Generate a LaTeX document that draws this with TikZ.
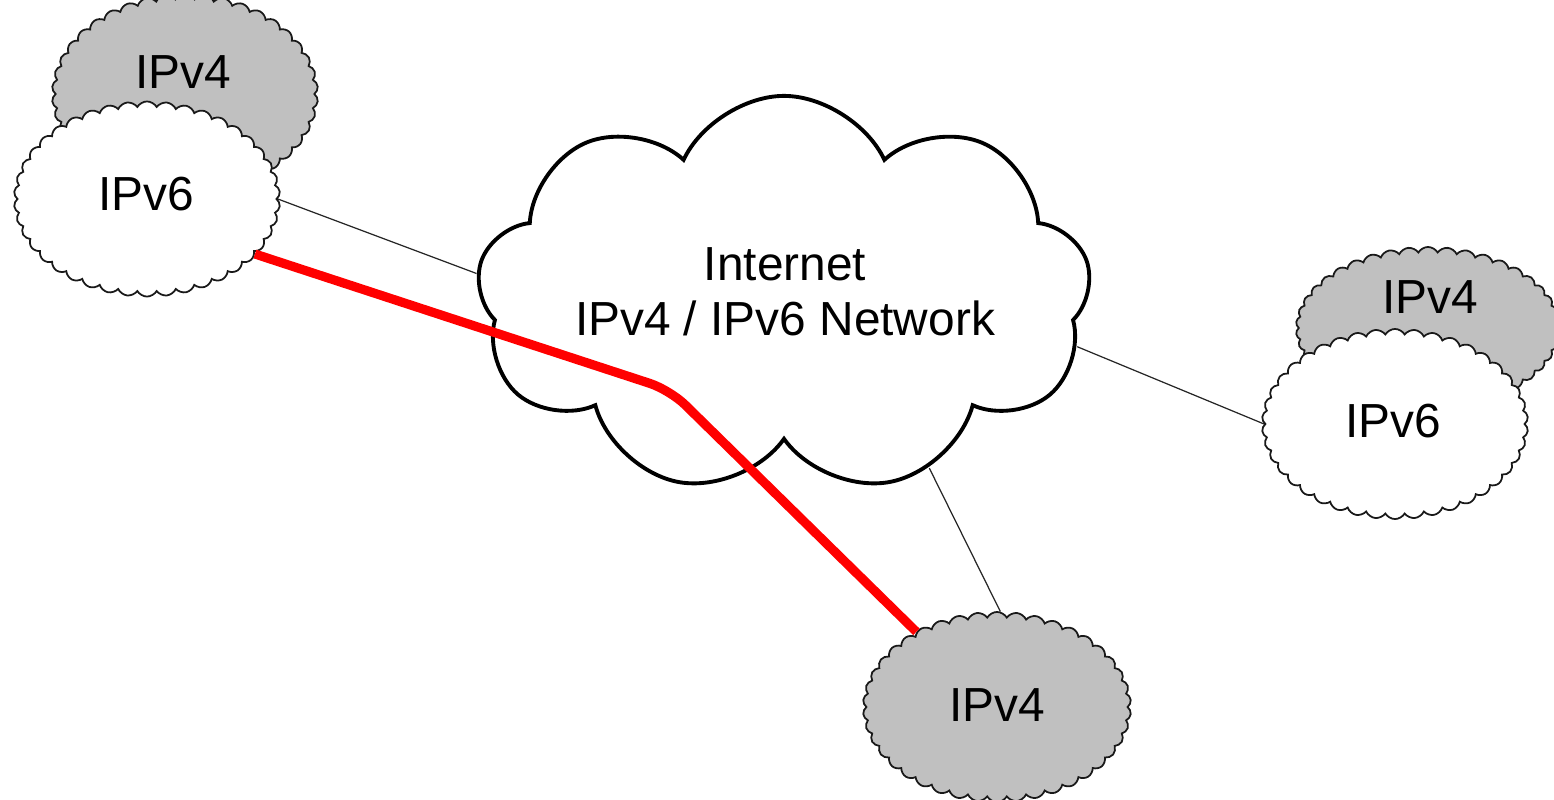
\documentclass[tikz,border=0pt]{standalone}
\usepackage{fontspec}
\setmainfont{Liberation Sans}
\usetikzlibrary{shapes.symbols}
\definecolor{cloudgray}{HTML}{C0C0C0}
\begin{document}
\begin{tikzpicture}[x=0.01cm,y=-0.01cm,
  small/.style={cloud, cloud puffs=42, cloud puff arc=120, cloud ignores aspect, draw=black!90, line width=0.5pt, inner sep=0pt},
  graycloud/.style={small, fill=cloudgray},
  whitecloud/.style={small, fill=white},
  bigcloud/.style={cloud, cloud puffs=9, cloud puff arc=130, cloud ignores aspect, draw=black, line width=1.1pt, fill=white, inner sep=0pt, shape border uses incircle, shape border rotate=20},
  lbl/.style={font=\fontsize{13.6}{15.6}\selectfont, align=center, inner sep=0pt},
  thin/.style={line width=0.35pt, draw=black!85},
  redpath/.style={line width=2.6pt, draw=red, line join=round, rounded corners=6pt}]
\useasboundingbox (0,0) rectangle (1554,800);
% top-left pair
\node[graycloud, minimum width=2.66cm, minimum height=2.0cm] (v4a) at (185,94) {};
\node[lbl] (t4a) at (183,72) {IPv4};
\node[whitecloud, minimum width=2.66cm, minimum height=1.95cm] (v6a) at (147,199) {};
\node[lbl] (t6a) at (146,194) {IPv6};
% right pair
\node[graycloud, minimum width=2.64cm, minimum height=1.62cm] (v4b) at (1428,328) {};
\node[lbl] (t4b) at (1430,297) {IPv4};
\node[whitecloud, minimum width=2.66cm, minimum height=1.9cm] (v6b) at (1395,424) {};
\node[lbl] (t6b) at (1393,421) {IPv6};
% bottom
\node[graycloud, minimum width=2.68cm, minimum height=1.9cm] (v4c) at (997,707) {};
\node[lbl] (t4c) at (997,705) {IPv4};
% internet
\node[bigcloud, minimum width=6.14cm, minimum height=3.98cm] (inet) at (784,295) {};
\node[lbl] (tinet) at (785,292) {Internet\\IPv4 / IPv6 Network};
% thin links
\draw[thin] (v6a.0) -- (inet.176);
\draw[thin] (inet.-10) -- (v6b.180);
\draw[thin] (inet.-50) -- (v4c.88);
% red path
\coordinate (bend) at (670,390);
\draw[redpath] (v6a.-27) -- (bend) -- (v4c.137);
\end{tikzpicture}
\end{document}
